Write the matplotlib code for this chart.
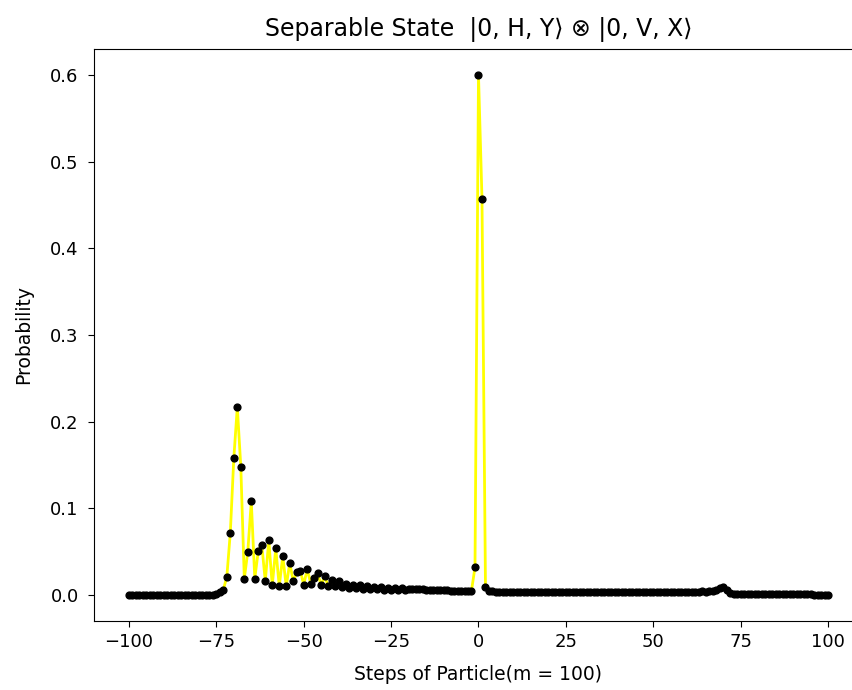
"""
plot.py — Wahrscheinlichkeitsverteilung eines Quantum Walk (separabler Zustand)
"""

import numpy as np
import matplotlib.pyplot as plt

# ---------------------------------------------------------------------------
# Daten, Schritte -100 ... 100
# ---------------------------------------------------------------------------

schritte = np.arange(-100, 101)

# -100 ... -76
linker_rand = [
    0.0, 0.0, 0.0, 0.0, 0.0, 0.0, 0.0, 0.0, 0.0, 0.0,
    0.0, 0.0, 0.0, 0.0, 0.0, 0.0, 0.0, 0.0, 0.0, 0.0,
    0.0, 0.0, 0.0, 0.0, 0.0,
]

# -75 ... -20
linker_peak = [
    0.001, 0.003, 0.006, 0.021, 0.072, 0.158, 0.217, 0.148, 0.019, 0.050,
    0.108, 0.019, 0.051, 0.058, 0.016, 0.063, 0.011, 0.054, 0.010, 0.045,
    0.010, 0.037, 0.016, 0.026, 0.028, 0.012, 0.030, 0.013, 0.020, 0.025,
    0.011, 0.022, 0.010, 0.017, 0.010, 0.016, 0.009, 0.013, 0.008, 0.012,
    0.008, 0.011, 0.007, 0.010, 0.007, 0.009, 0.007, 0.009, 0.006, 0.008,
    0.006, 0.008, 0.006, 0.008, 0.006, 0.007,
]

# -19 ... -2
vor_zentrum = [
    0.007, 0.007, 0.007, 0.007, 0.006, 0.006, 0.006, 0.006, 0.006, 0.006,
    0.006, 0.005, 0.005, 0.005, 0.005, 0.005, 0.005, 0.005,
]

# -1 ... 2
zentrum = [0.032, 0.600, 0.457, 0.009]

# 3 ... 29
nach_zentrum = [
    0.005, 0.005, 0.004, 0.004, 0.004, 0.004, 0.004, 0.004, 0.004, 0.004,
    0.004, 0.004, 0.004, 0.004, 0.004, 0.004, 0.004, 0.004, 0.004, 0.004,
    0.004, 0.004, 0.004, 0.004, 0.004, 0.004, 0.004,
]

# 30 ... 67
rechte_welle = [
    0.004, 0.003, 0.004, 0.003, 0.004, 0.004, 0.003, 0.004, 0.003, 0.004,
    0.003, 0.004, 0.003, 0.004, 0.003, 0.004, 0.003, 0.004, 0.003, 0.004,
    0.003, 0.004, 0.003, 0.004, 0.003, 0.004, 0.003, 0.004, 0.003, 0.004,
    0.003, 0.004, 0.004, 0.003, 0.005, 0.004, 0.005, 0.005,
]

# 68 ... 100
rechter_rand = [
    0.006, 0.008, 0.009, 0.006, 0.002,
    0.001, 0.001, 0.001, 0.001, 0.001, 0.001, 0.001, 0.001, 0.001, 0.001,
    0.001, 0.001, 0.001, 0.001, 0.001, 0.001, 0.001, 0.001, 0.001, 0.001,
    0.001, 0.001, 0.001, 0.0005, 0.0005, 0.0005, 0.0005, 0.0005,
]

wahrscheinlichkeit = np.array(
    linker_rand + linker_peak + vor_zentrum + zentrum
    + nach_zentrum + rechte_welle + rechter_rand
)

# ---------------------------------------------------------------------------
# Plot
# ---------------------------------------------------------------------------

fig = plt.figure(figsize=(8.53, 6.90), dpi=100)
# Achse reicht rechts etwas über den Bildrand hinaus (wie im Original-Ausschnitt)
ax = fig.add_axes([0.1102, 0.1, 0.9015, 0.829])

ax.plot(schritte, wahrscheinlichkeit, color="yellow", linewidth=2.0, zorder=1)
ax.scatter(schritte, wahrscheinlichkeit, color="black", s=24, zorder=2)

ax.set_xlim(-110, 110)
ax.set_ylim(-0.03, 0.63)
ax.set_title("Separable State  |0, H, Y\u27e9 \u2297 |0, V, X\u27e9",
             fontsize=17, pad=9)
ax.set_xlabel("Steps of Particle(m = 100)", fontsize=13.5, labelpad=10)
ax.set_ylabel("Probability", fontsize=13.5, labelpad=12)
ax.tick_params(axis="x", labelsize=13, length=4, pad=4.5)
ax.tick_params(axis="y", labelsize=13, length=4, pad=7)

fig.savefig("out.png", dpi=100)
